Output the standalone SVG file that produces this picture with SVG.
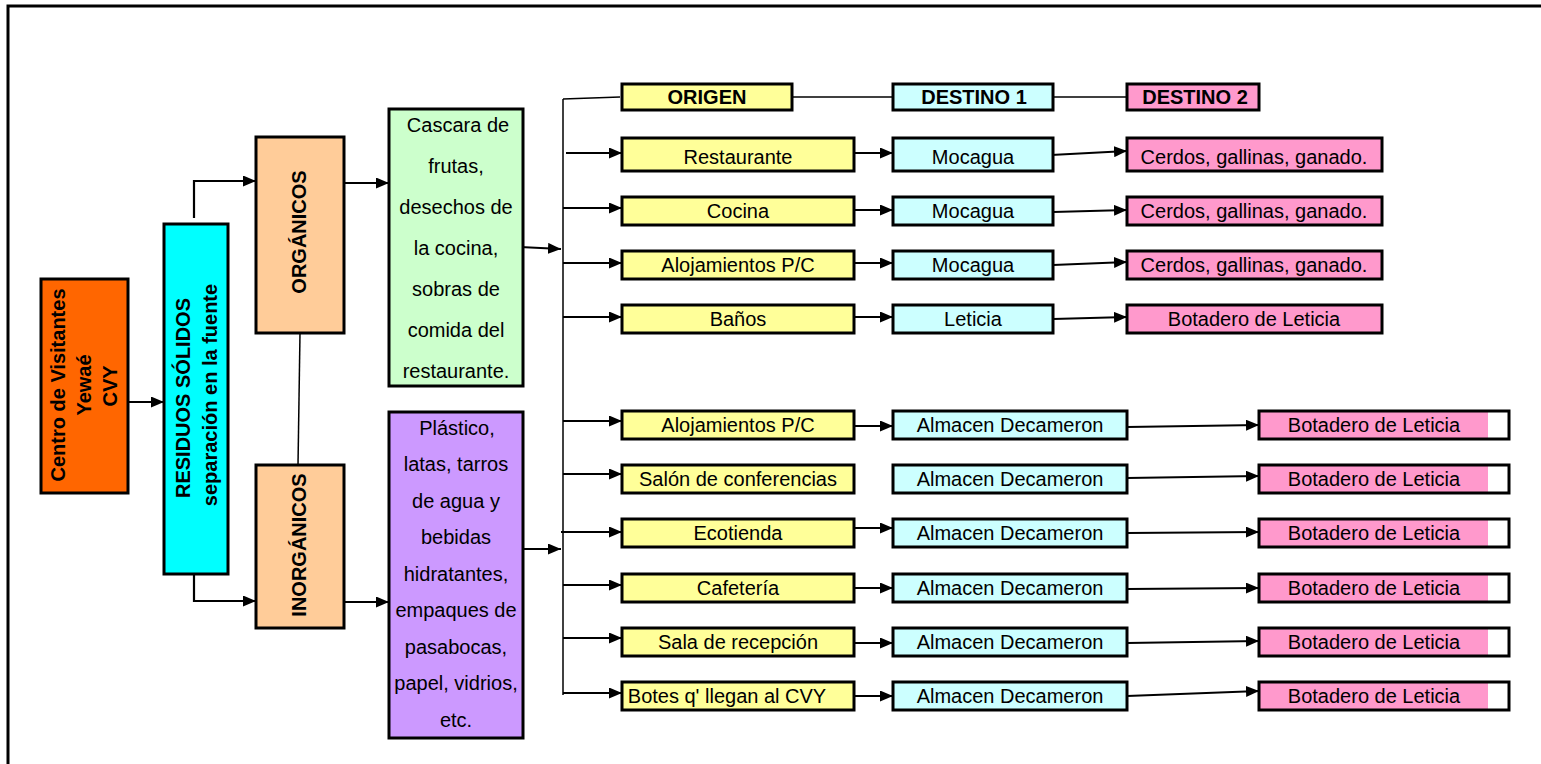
<svg xmlns="http://www.w3.org/2000/svg" width="1541" height="764" viewBox="0 0 1541 764">
<style>
text{font-family:"Liberation Sans",Arial,sans-serif;font-size:20px;fill:#000;text-anchor:middle}
.b{font-weight:bold}
.box{stroke:#000;stroke-width:3}
.y{fill:#FFFF99}.c{fill:#CCFFFF}.p{fill:#FF99CC}
.arr{stroke:#000;stroke-width:2.2;fill:none;marker-end:url(#ah)}
.ln{stroke:#000;stroke-width:1.5;fill:none}
</style>
<defs>
<marker id="ah" markerUnits="userSpaceOnUse" markerWidth="13" markerHeight="11" refX="13" refY="5.5" orient="auto">
<path d="M0,0 L13,5.5 L0,11 z" fill="#000"/>
</marker>
</defs>
<rect width="1541" height="764" fill="#fff"/>
<path d="M8,764 V6 H1541" fill="none" stroke="#000" stroke-width="3"/>

<g id="connectors">
<path class="arr" d="M128,402 H164"/>
<path class="arr" d="M194,218 V181 H256"/>
<path class="arr" d="M194,574 V601 H256"/>
<path class="ln" d="M300,333 L298,465"/>
<path class="arr" d="M344,183 H389"/>
<path class="arr" d="M340,602 H389"/>
<path class="arr" d="M520,247 L561,249"/>
<path class="arr" d="M520,549 H561"/>
<path class="ln" d="M563,99 V695"/>
<path class="ln" d="M563,99 L620,97"/>
<path class="ln" d="M792,97 H893"/>
<path class="ln" d="M1053,97 H1127"/>
<path class="arr" d="M566,153 H622"/>
<path class="arr" d="M563,208 H622"/>
<path class="arr" d="M563,263 H622"/>
<path class="arr" d="M563,317 H622"/>
<path class="arr" d="M563,421 H622"/>
<path class="arr" d="M563,474 H622"/>
<path class="arr" d="M561,532 H622"/>
<path class="arr" d="M563,585 H622"/>
<path class="arr" d="M563,638 H622"/>
<path class="arr" d="M563,693 H622"/>
<path class="arr" d="M852,153 H893"/>
<path class="arr" d="M854,210 H893"/>
<path class="arr" d="M852,263 H893"/>
<path class="arr" d="M854,317 H893"/>
<path class="arr" d="M852,426 H893"/>
<path class="arr" d="M852,528 H893"/>
<path class="arr" d="M852,588 H893"/>
<path class="arr" d="M852,643 H893"/>
<path class="arr" d="M852,696 H893"/>
<path class="arr" d="M1051,155 L1127,151"/>
<path class="arr" d="M1053,212 L1127,210"/>
<path class="arr" d="M1053,265 L1127,262"/>
<path class="arr" d="M1053,319 L1127,317"/>
<path class="arr" d="M1127,427 L1259,425"/>
<path class="arr" d="M1127,478 L1259,476"/>
<path class="arr" d="M1127,533 L1259,532"/>
<path class="arr" d="M1127,589 L1259,588"/>
<path class="arr" d="M1127,643 L1259,641"/>
<path class="arr" d="M1127,696 L1259,691"/>
</g>

<g id="centro">
<rect class="box" x="41" y="279" width="87" height="214" fill="#FF6600"/>
<text class="b" x="58" y="385" dy="0.35em" transform="rotate(-90 58 385)">Centro de Visitantes</text>
<text class="b" x="84" y="385" dy="0.35em" transform="rotate(-90 84 385)">Yewaé</text>
<text class="b" x="110" y="386" dy="0.35em" transform="rotate(-90 110 386)">CVY</text>
</g>

<g id="residuos">
<rect class="box" x="164" y="224" width="64" height="350" fill="#00FFFF"/>
<text class="b" x="183" y="398" dy="0.35em" transform="rotate(-90 183 398)">RESIDUOS SÓLIDOS</text>
<text class="b" x="210" y="395" dy="0.35em" transform="rotate(-90 210 395)">separación en la fuente</text>
</g>

<g id="organicos">
<rect class="box" x="256" y="137" width="88" height="196" fill="#FFCC99"/>
<text class="b" x="299" y="232" dy="0.35em" transform="rotate(-90 299 232)">ORGÁNICOS</text>
</g>

<g id="inorganicos">
<rect class="box" x="256" y="465" width="88" height="163" fill="#FFCC99"/>
<text class="b" x="299" y="545" dy="0.35em" transform="rotate(-90 299 545)">INORGÁNICOS</text>
</g>

<g id="organicos-detalle">
<rect class="box" x="389" y="109" width="134" height="277" fill="#CCFFCC"/>
<text x="458" y="132">Cascara de</text>
<text x="456" y="173">frutas,</text>
<text x="456" y="214">desechos de</text>
<text x="456" y="255">la cocina,</text>
<text x="456" y="296">sobras de</text>
<text x="456" y="337">comida del</text>
<text x="456" y="378">restaurante.</text>
</g>

<g id="inorganicos-detalle">
<rect class="box" x="389" y="412" width="134" height="326" fill="#CC99FF"/>
<text x="457" y="435">Plástico,</text>
<text x="456" y="471">latas, tarros</text>
<text x="456" y="508">de agua y</text>
<text x="456" y="544">bebidas</text>
<text x="456" y="581">hidratantes,</text>
<text x="456" y="617">empaques de</text>
<text x="456" y="654">pasabocas,</text>
<text x="456" y="690">papel, vidrios,</text>
<text x="456" y="727">etc.</text>
</g>

<g id="hdr-origen"><rect class="box y" x="622" y="84" width="170" height="26"/><text class="b" x="707" y="104">ORIGEN</text></g>
<g id="hdr-destino1"><rect class="box c" x="893" y="84" width="160" height="26"/><text class="b" x="974" y="104">DESTINO 1</text></g>
<g id="hdr-destino2"><rect class="box p" x="1127" y="84" width="132" height="26"/><text class="b" x="1195" y="104">DESTINO 2</text></g>

<g id="o1"><rect class="box y" x="622" y="138" width="232" height="33"/><text x="738" y="164">Restaurante</text></g>
<g id="o2"><rect class="box y" x="622" y="197" width="232" height="28"/><text x="738" y="218">Cocina</text></g>
<g id="o3"><rect class="box y" x="622" y="251" width="232" height="28"/><text x="738" y="272">Alojamientos P/C</text></g>
<g id="o4"><rect class="box y" x="622" y="305" width="232" height="28"/><text x="738" y="326">Baños</text></g>
<g id="o5"><rect class="box y" x="622" y="411" width="232" height="28"/><text x="738" y="432">Alojamientos P/C</text></g>
<g id="o6"><rect class="box y" x="622" y="465" width="232" height="28"/><text x="738" y="486">Salón de conferencias</text></g>
<g id="o7"><rect class="box y" x="622" y="519" width="232" height="28"/><text x="738" y="540">Ecotienda</text></g>
<g id="o8"><rect class="box y" x="622" y="574" width="232" height="28"/><text x="738" y="595">Cafetería</text></g>
<g id="o9"><rect class="box y" x="622" y="628" width="232" height="28"/><text x="738" y="649">Sala de recepción</text></g>
<g id="o10"><rect class="box y" x="622" y="682" width="232" height="28"/><text x="727" y="703">Botes q' llegan al CVY</text></g>

<g id="d1-1"><rect class="box c" x="893" y="138" width="160" height="33"/><text x="973" y="164">Mocagua</text></g>
<g id="d1-2"><rect class="box c" x="893" y="197" width="160" height="28"/><text x="973" y="218">Mocagua</text></g>
<g id="d1-3"><rect class="box c" x="893" y="251" width="160" height="28"/><text x="973" y="272">Mocagua</text></g>
<g id="d1-4"><rect class="box c" x="893" y="305" width="160" height="28"/><text x="973" y="326">Leticia</text></g>
<g id="d1-5"><rect class="box c" x="893" y="411" width="234" height="28"/><text x="1010" y="432">Almacen Decameron</text></g>
<g id="d1-6"><rect class="box c" x="893" y="465" width="234" height="28"/><text x="1010" y="486">Almacen Decameron</text></g>
<g id="d1-7"><rect class="box c" x="893" y="519" width="234" height="28"/><text x="1010" y="540">Almacen Decameron</text></g>
<g id="d1-8"><rect class="box c" x="893" y="574" width="234" height="28"/><text x="1010" y="595">Almacen Decameron</text></g>
<g id="d1-9"><rect class="box c" x="893" y="628" width="234" height="28"/><text x="1010" y="649">Almacen Decameron</text></g>
<g id="d1-10"><rect class="box c" x="893" y="682" width="234" height="28"/><text x="1010" y="703">Almacen Decameron</text></g>

<g id="d2-1"><rect class="box p" x="1127" y="138" width="255" height="33"/><text x="1254" y="164">Cerdos, gallinas, ganado.</text></g>
<g id="d2-2"><rect class="box p" x="1127" y="197" width="255" height="28"/><text x="1254" y="218">Cerdos, gallinas, ganado.</text></g>
<g id="d2-3"><rect class="box p" x="1127" y="251" width="255" height="28"/><text x="1254" y="272">Cerdos, gallinas, ganado.</text></g>
<g id="d2-4"><rect class="box p" x="1127" y="305" width="255" height="28"/><text x="1254" y="326">Botadero de Leticia</text></g>
<g id="d2-5"><rect x="1259" y="411" width="229" height="28" class="p"/><rect class="box" x="1259" y="411" width="250" height="28" fill="none"/><text x="1374" y="432">Botadero de Leticia</text></g>
<g id="d2-6"><rect x="1259" y="465" width="229" height="28" class="p"/><rect class="box" x="1259" y="465" width="250" height="28" fill="none"/><text x="1374" y="486">Botadero de Leticia</text></g>
<g id="d2-7"><rect x="1259" y="519" width="229" height="28" class="p"/><rect class="box" x="1259" y="519" width="250" height="28" fill="none"/><text x="1374" y="540">Botadero de Leticia</text></g>
<g id="d2-8"><rect x="1259" y="574" width="229" height="28" class="p"/><rect class="box" x="1259" y="574" width="250" height="28" fill="none"/><text x="1374" y="595">Botadero de Leticia</text></g>
<g id="d2-9"><rect x="1259" y="628" width="229" height="28" class="p"/><rect class="box" x="1259" y="628" width="250" height="28" fill="none"/><text x="1374" y="649">Botadero de Leticia</text></g>
<g id="d2-10"><rect x="1259" y="682" width="229" height="28" class="p"/><rect class="box" x="1259" y="682" width="250" height="28" fill="none"/><text x="1374" y="703">Botadero de Leticia</text></g>
</svg>
